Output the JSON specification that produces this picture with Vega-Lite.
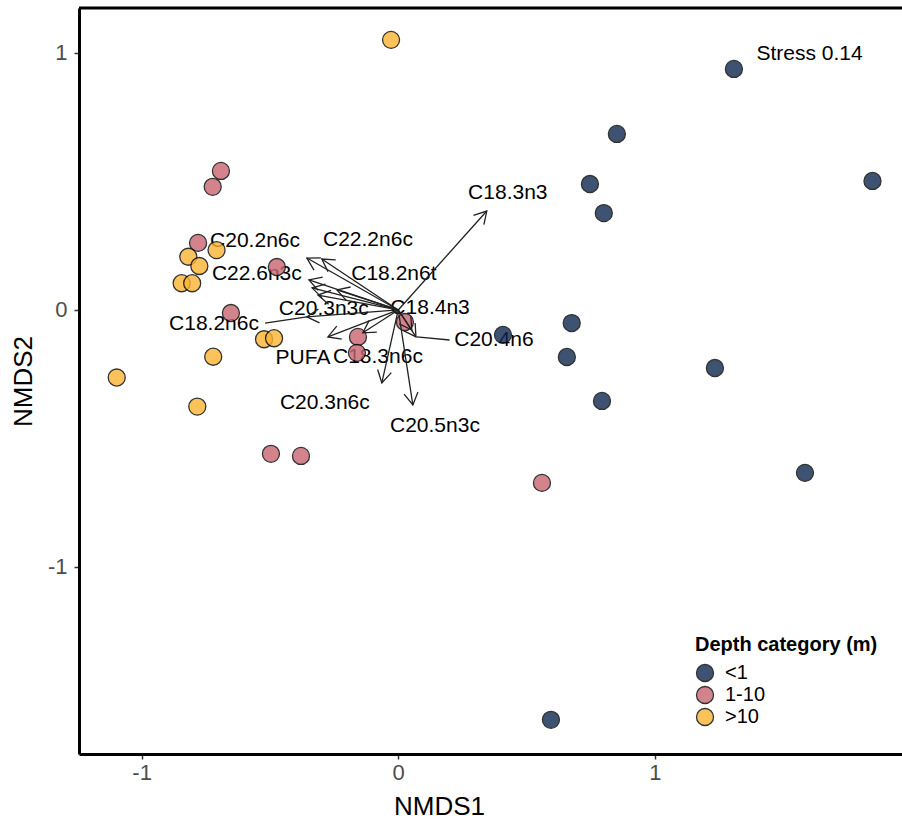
{
  "$schema": "https://vega.github.io/schema/vega-lite/v6.json",
  "autosize": {"type": "none"},
  "padding": {"left": 79, "top": 8, "right": 0, "bottom": 71},
  "width": 823,
  "height": 746,
  "background": "white",
  "config": {
    "font": "Liberation Sans",
    "view": {"stroke": null},
    "axis": {"grid": false}
  },
  "datasets": {
    "sites": [
      {"NMDS1": 1.308, "NMDS2": 0.938, "depth": "<1"},
      {"NMDS1": 0.852, "NMDS2": 0.685, "depth": "<1"},
      {"NMDS1": 1.848, "NMDS2": 0.502, "depth": "<1"},
      {"NMDS1": 0.747, "NMDS2": 0.490, "depth": "<1"},
      {"NMDS1": 0.801, "NMDS2": 0.377, "depth": "<1"},
      {"NMDS1": 0.408, "NMDS2": -0.097, "depth": "<1"},
      {"NMDS1": 0.676, "NMDS2": -0.051, "depth": "<1"},
      {"NMDS1": 0.657, "NMDS2": -0.183, "depth": "<1"},
      {"NMDS1": 1.234, "NMDS2": -0.226, "depth": "<1"},
      {"NMDS1": 0.794, "NMDS2": -0.354, "depth": "<1"},
      {"NMDS1": 1.585, "NMDS2": -0.634, "depth": "<1"},
      {"NMDS1": 0.595, "NMDS2": -1.595, "depth": "<1"},
      {"NMDS1": -0.691, "NMDS2": 0.541, "depth": "1-10"},
      {"NMDS1": -0.723, "NMDS2": 0.479, "depth": "1-10"},
      {"NMDS1": -0.780, "NMDS2": 0.261, "depth": "1-10"},
      {"NMDS1": -0.473, "NMDS2": 0.167, "depth": "1-10"},
      {"NMDS1": -0.652, "NMDS2": -0.012, "depth": "1-10"},
      {"NMDS1": -0.157, "NMDS2": -0.105, "depth": "1-10"},
      {"NMDS1": -0.161, "NMDS2": -0.167, "depth": "1-10"},
      {"NMDS1": 0.026, "NMDS2": -0.047, "depth": "1-10"},
      {"NMDS1": -0.496, "NMDS2": -0.560, "depth": "1-10"},
      {"NMDS1": -0.379, "NMDS2": -0.568, "depth": "1-10"},
      {"NMDS1": 0.560, "NMDS2": -0.673, "depth": "1-10"},
      {"NMDS1": -0.028, "NMDS2": 1.051, "depth": ">10"},
      {"NMDS1": -0.708, "NMDS2": 0.233, "depth": ">10"},
      {"NMDS1": -0.818, "NMDS2": 0.207, "depth": ">10"},
      {"NMDS1": -0.775, "NMDS2": 0.171, "depth": ">10"},
      {"NMDS1": -0.844, "NMDS2": 0.104, "depth": ">10"},
      {"NMDS1": -0.803, "NMDS2": 0.104, "depth": ">10"},
      {"NMDS1": -0.523, "NMDS2": -0.114, "depth": ">10"},
      {"NMDS1": -0.484, "NMDS2": -0.110, "depth": ">10"},
      {"NMDS1": -0.721, "NMDS2": -0.182, "depth": ">10"},
      {"NMDS1": -1.097, "NMDS2": -0.263, "depth": ">10"},
      {"NMDS1": -0.783, "NMDS2": -0.376, "depth": ">10"}
    ],
    "vectors": [
      {"var": "C18.3n3", "ax": 0.345, "ay": 0.385},
      {"var": "C20.2n6c", "ax": -0.356, "ay": 0.202},
      {"var": "C22.2n6c", "ax": -0.298, "ay": 0.198},
      {"var": "C22.6n3c", "ax": -0.348, "ay": 0.117},
      {"var": "C20.3n3c", "ax": -0.336, "ay": 0.086},
      {"var": "v6", "ax": -0.313, "ay": 0.058},
      {"var": "C18.2n6t", "ax": -0.239, "ay": 0.078},
      {"var": "C18.2n6c", "ax": -0.356, "ay": -0.027},
      {"var": "PUFA", "ax": -0.274, "ay": -0.105},
      {"var": "C18.3n6c", "ax": -0.138, "ay": -0.089},
      {"var": "C20.3n6c", "ax": -0.064, "ay": -0.284},
      {"var": "C20.5n3c", "ax": 0.057, "ay": -0.370},
      {"var": "C18.4n3", "ax": 0.053, "ay": -0.078},
      {"var": "C20.4n6", "ax": 0.069, "ay": -0.105}
    ],
    "labels": [
      {"text": "C18.3n3", "lx": 0.427, "ly": 0.455},
      {"text": "C22.2n6c", "lx": -0.118, "ly": 0.272},
      {"text": "C20.2n6c", "lx": -0.558, "ly": 0.268},
      {"text": "C18.2n6t", "lx": -0.017, "ly": 0.140},
      {"text": "C22.6n3c", "lx": -0.551, "ly": 0.140},
      {"text": "C20.3n3c", "lx": -0.290, "ly": 0.004},
      {"text": "C18.4n3", "lx": 0.124, "ly": 0.008},
      {"text": "C18.2n6c", "lx": -0.718, "ly": -0.054},
      {"text": "C20.4n6", "lx": 0.373, "ly": -0.117},
      {"text": "PUFA", "lx": -0.371, "ly": -0.187},
      {"text": "C18.3n6c", "lx": -0.079, "ly": -0.183},
      {"text": "C20.3n6c", "lx": -0.286, "ly": -0.362},
      {"text": "C20.5n3c", "lx": 0.143, "ly": -0.451},
      {"text": "Stress 0.14", "lx": 1.603, "ly": 0.996}
    ],
    "segments": [
      {"var": "C18.2n6c", "sx": -0.519, "sy": -0.051, "ex": -0.356, "ey": -0.027},
      {"var": "C20.4n6", "sx": 0.200, "sy": -0.117, "ex": 0.072, "ey": -0.105}
    ],
    "frame": [
      {"edge": "top", "NMDS2": 1.175}
    ]
  },
  "layer": [
    {
      "data": {"name": "labels"},
      "mark": {"type": "text", "fontSize": 21, "color": "black", "align": "center", "baseline": "middle"},
      "encoding": {
        "x": {
          "field": "lx", "type": "quantitative",
          "scale": {"domain": [-1.244, 1.963], "nice": false, "zero": false},
          "axis": {
            "values": [-1, 0, 1], "title": "NMDS1",
            "labelExpr": "datum.value < 0 ? '-' + format(-datum.value, 'd') : format(datum.value, 'd')",
            "domain": true, "domainColor": "black", "domainWidth": 3,
            "tickColor": "#333333", "tickWidth": 1.5, "tickSize": 5,
            "labelColor": "#4D4D4D", "labelFontSize": 22, "labelPadding": 3,
            "titleFontSize": 26, "titleFontWeight": "normal", "titleColor": "black",
            "titleX": 360, "titleY": 52, "titleAlign": "center", "titleBaseline": "middle"
          }
        },
        "y": {
          "field": "ly", "type": "quantitative",
          "scale": {"domain": [-1.728, 1.175], "nice": false, "zero": false},
          "axis": {
            "values": [-1, 0, 1], "title": "NMDS2",
            "labelExpr": "datum.value < 0 ? '-' + format(-datum.value, 'd') : format(datum.value, 'd')",
            "domain": true, "domainColor": "black", "domainWidth": 3,
            "tickColor": "#333333", "tickWidth": 1.5, "tickSize": 5,
            "labelColor": "#4D4D4D", "labelFontSize": 22, "labelPadding": 7,
            "titleFontSize": 26, "titleFontWeight": "normal", "titleColor": "black",
            "titleX": -56, "titleY": 373, "titleAlign": "center", "titleBaseline": "middle"
          }
        },
        "text": {"field": "text"}
      }
    },
    {
      "data": {"name": "sites"},
      "mark": {"type": "circle", "size": 290, "opacity": 0.8, "stroke": "black", "strokeWidth": 1.3},
      "encoding": {
        "x": {"field": "NMDS1", "type": "quantitative"},
        "y": {"field": "NMDS2", "type": "quantitative"},
        "fill": {
          "field": "depth", "type": "nominal",
          "scale": {"domain": ["<1", "1-10", ">10"], "range": ["#0F274F", "#C9656F", "#FCB533"]},
          "legend": {
            "title": "Depth category (m)",
            "orient": "none", "legendX": 616, "legendY": 627,
            "padding": 0,
            "titleFontSize": 20, "titleFontWeight": "bold", "titleColor": "black", "titlePadding": 8, "titleLimit": 400,
            "labelFontSize": 20, "labelColor": "black", "labelOffset": 10,
            "symbolType": "circle", "symbolSize": 290, "symbolStrokeColor": "black", "symbolStrokeWidth": 1.3, "symbolOpacity": 0.8,
            "rowPadding": -3
          }
        }
      }
    },
    {
      "data": {"name": "frame"},
      "mark": {"type": "rule", "stroke": "black", "strokeWidth": 3},
      "encoding": {
        "y": {"field": "NMDS2", "type": "quantitative"}
      }
    },
    {
      "data": {"name": "vectors"},
      "mark": {"type": "rule", "stroke": "#222222", "strokeWidth": 1.3},
      "encoding": {
        "x": {"field": "ax", "type": "quantitative"},
        "y": {"field": "ay", "type": "quantitative"},
        "x2": {"datum": 0},
        "y2": {"datum": 0}
      }
    },
    {
      "data": {"name": "vectors"},
      "transform": [{"calculate": "(atan2(-datum.ay, datum.ax) * 180 / PI + 360) % 360", "as": "ang"}],
      "mark": {"type": "point", "shape": "M-0.866,-0.5L0,0L-0.866,0.5", "filled": false, "stroke": "#222222", "strokeWidth": 1.3, "size": 784, "opacity": 1},
      "encoding": {
        "x": {"field": "ax", "type": "quantitative"},
        "y": {"field": "ay", "type": "quantitative"},
        "angle": {"field": "ang", "type": "quantitative", "scale": null}
      }
    },
    {
      "data": {"name": "segments"},
      "mark": {"type": "rule", "stroke": "#222222", "strokeWidth": 1.3},
      "encoding": {
        "x": {"field": "sx", "type": "quantitative"},
        "y": {"field": "sy", "type": "quantitative"},
        "x2": {"field": "ex"},
        "y2": {"field": "ey"}
      }
    }
  ]
}
